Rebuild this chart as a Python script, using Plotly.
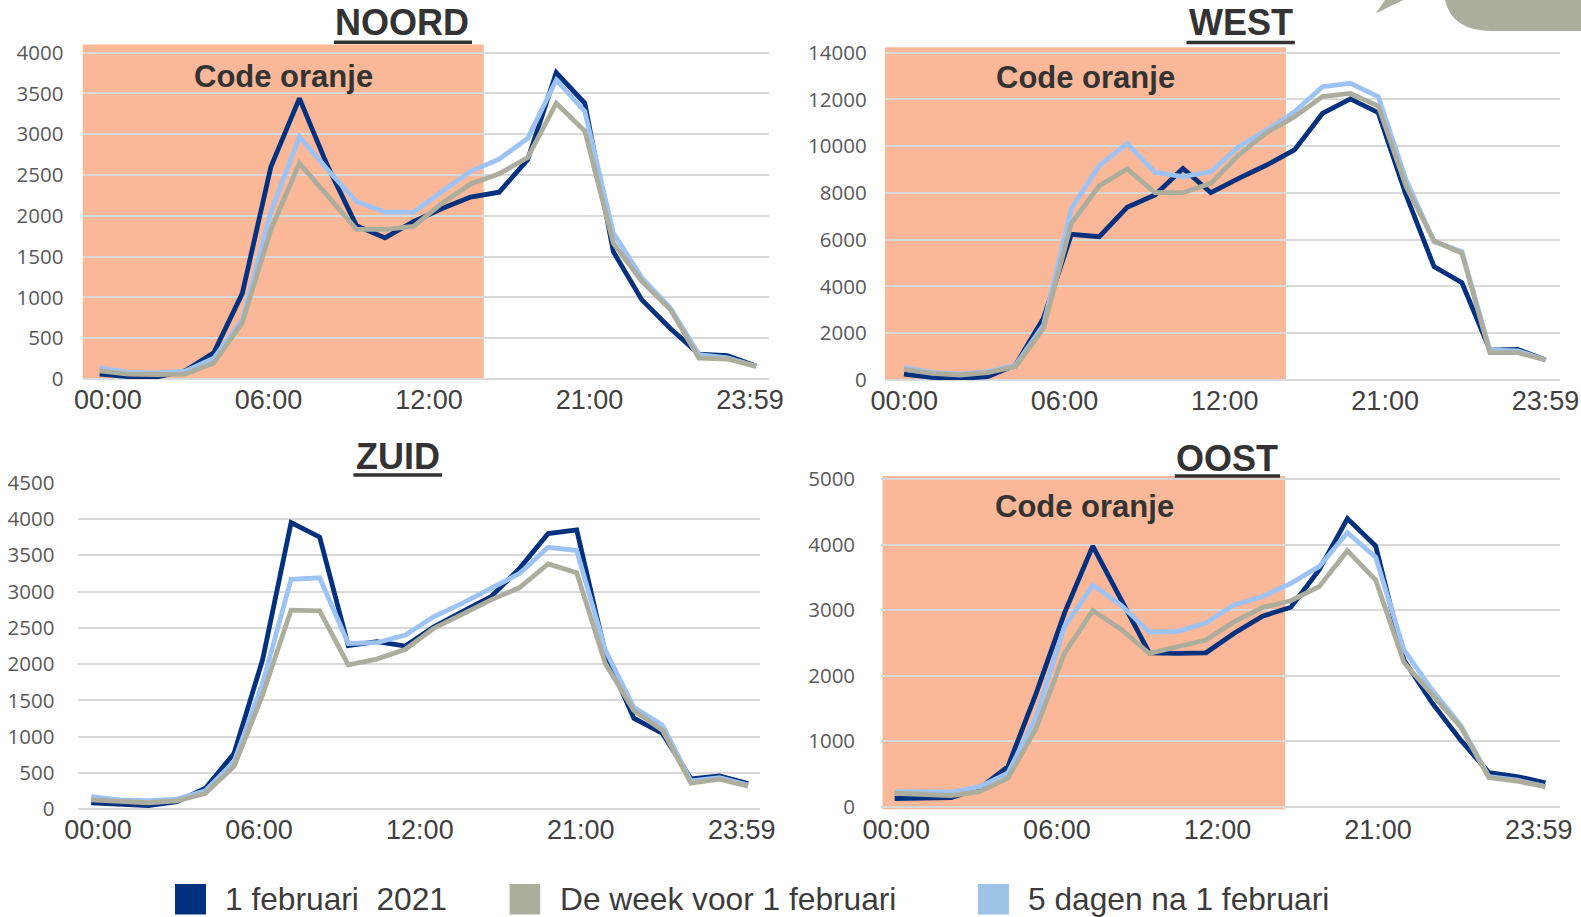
import plotly.graph_objects as go

W, H = 1581, 917

# ---------------- data ----------------
hours = list(range(24))
tick_labels = ["00:00", "06:00", "12:00", "21:00", "23:59"]
series_names = ["1 februari\u00a0 2021", "De week voor 1 februari", "5 dagen na 1 februari"]

noord_feb1 = [60, 30, 25, 100, 320, 1050, 2600, 3440, 2600, 1880, 1730, 1930, 2090, 2230, 2290, 2690, 3755, 3380, 1560, 970, 620, 305, 285, 160]
noord_week = [100, 60, 55, 60, 195, 690, 1830, 2645, 2240, 1835, 1835, 1870, 2155, 2390, 2515, 2715, 3380, 3040, 1665, 1195, 850, 255, 245, 155]
noord_after = [135, 80, 75, 95, 255, 725, 2050, 2970, 2560, 2175, 2045, 2045, 2300, 2545, 2695, 2950, 3665, 3280, 1790, 1240, 870, 300, 260, 155]

west_feb1 = [255, 115, 70, 140, 640, 2640, 6230, 6130, 7385, 7910, 9050, 8010, 8625, 9195, 9840, 11400, 12020, 11435, 7900, 4850, 4160, 1280, 1310, 855]
west_week = [455, 285, 215, 315, 570, 2210, 6700, 8310, 9025, 8010, 8010, 8410, 9625, 10580, 11260, 12120, 12260, 11720, 8270, 5960, 5420, 1170, 1170, 855]
west_after = [540, 330, 255, 355, 640, 2350, 7340, 9170, 10120, 8880, 8700, 8910, 9980, 10690, 11475, 12545, 12690, 12120, 8550, 5915, 5490, 1280, 1250, 855]

zuid_feb1 = [90, 70, 50, 105, 290, 770, 2060, 3950, 3750, 2255, 2310, 2250, 2515, 2725, 2930, 3320, 3800, 3850, 2150, 1255, 1045, 420, 460, 355]
zuid_week = [130, 105, 90, 115, 220, 590, 1575, 2745, 2735, 1990, 2070, 2205, 2495, 2690, 2885, 3055, 3380, 3260, 2010, 1360, 1090, 360, 415, 320]
zuid_after = [175, 130, 120, 140, 255, 655, 1735, 3170, 3190, 2285, 2295, 2400, 2655, 2840, 3045, 3250, 3610, 3565, 2195, 1405, 1160, 390, 435, 335]

oost_feb1 = [125, 135, 140, 280, 610, 1730, 2955, 3980, 3155, 2350, 2340, 2350, 2650, 2910, 3045, 3615, 4400, 3980, 2240, 1580, 1020, 520, 460, 365]
oost_week = [205, 180, 170, 230, 435, 1195, 2340, 2995, 2710, 2340, 2435, 2545, 2825, 3040, 3145, 3360, 3910, 3460, 2200, 1720, 1220, 445, 390, 305]
oost_after = [230, 230, 220, 305, 510, 1375, 2750, 3385, 3080, 2665, 2675, 2810, 3080, 3210, 3410, 3665, 4185, 3810, 2395, 1780, 1245, 460, 405, 305]

regions = ["NOORD", "WEST", "ZUID", "OOST"]
region_data = {
    "NOORD": (noord_feb1, noord_week, noord_after),
    "WEST": (west_feb1, west_week, west_after),
    "ZUID": (zuid_feb1, zuid_week, zuid_after),
    "OOST": (oost_feb1, oost_week, oost_after),
}
code_label = "Code oranje"

# ---------------- styling ----------------
C_DARK = "#02317F"
C_GRAY = "#ADAD9E"
C_LIGHT = "#9DC3F5"
C_LEG_LIGHT = "#9DC3E6"
C_ORANGE = "#FBB899"
GRID = "#D9D9D9"
FONT = "Arial, Liberation Sans, sans-serif"
YFONT = "Open Sans, Arial, sans-serif"


def px(x, y):
    return x / W, 1 - y / H


# layout per panel: pixel box (left, right, bottom, top), x range, y range, dtick, label standoff,
# orange band, x-label placement (start fraction, step fraction)
panels = {
    "NOORD": dict(box=(82.5, 768.6, 379, 44.5), xr=(-0.6, 23.44), yr=(0, 4100), dt=500, st=18, band=(-0.6, 13.46),
                  title=(402, 22.5), ul=(334, 472, 42.3), code=(283.5, 76), lab=(0.037, 0.234)),
    "WEST": dict(box=(884.7, 1559.6, 380, 47.3), xr=(-0.69, 23.5), yr=(0, 14230), dt=2000, st=17, band=(-0.69, 13.69),
                 title=(1240.6, 22.5), ul=(1186.5, 1294.8, 42.5), code=(1085, 77), lab=(0.029, 0.2375)),
    "ZUID": dict(box=(77.5, 759.5, 809.3, 482.7), xr=(-0.48, 23.4), yr=(0, 4500), dt=500, st=22, band=None,
                 title=(397.7, 456), ul=(353.4, 442, 475), code=None, lab=(0.030, 0.236)),
    "OOST": dict(box=(881.1, 1559.6, 809.3, 476), xr=(-0.48, 23.5), yr=(-40, 5050), dt=1000, st=25, band=(-0.43, 13.8),
                 title=(1227.4, 458), ul=(1174.8, 1280, 476), code=(1084, 506), lab=(0.0224, 0.2367)),
}

fig = go.Figure()
shapes = []
annotations = []

for i, reg in enumerate(regions, start=1):
    p = panels[reg]
    xa = "x" if i == 1 else f"x{i}"
    ya = "y" if i == 1 else f"y{i}"
    feb1, week, after = region_data[reg]
    for vals, col in ((feb1, C_DARK), (after, C_LIGHT), (week, C_GRAY)):
        fig.add_trace(go.Scatter(x=hours, y=vals, mode="lines", xaxis=xa, yaxis=ya,
                                 line=dict(color=col, width=4.8), showlegend=False, hoverinfo="skip"))
    l, r, b, t = p["box"]
    x0, x1 = p["xr"]
    f0, fs = p["lab"]
    tickvals = [x0 + (x1 - x0) * (f0 + fs * k) for k in range(len(tick_labels))]
    fig.update_layout(**{
        ("xaxis" if i == 1 else f"xaxis{i}"): dict(
            domain=[l / W, r / W], range=list(p["xr"]), anchor=ya, showgrid=False, zeroline=False,
            showline=False, ticks="", tickvals=tickvals, ticktext=tick_labels, automargin=False,
            ticklabeloverflow="allow",
            tickfont=dict(family=FONT, size=27, color="#404040"), ticklabelstandoff=2),
        ("yaxis" if i == 1 else f"yaxis{i}"): dict(
            domain=[1 - b / H, 1 - t / H], range=list(p["yr"]), anchor=xa, dtick=p["dt"], tick0=0,
            tickformat="d", automargin=False,
            showgrid=True, gridcolor=GRID, gridwidth=2, zeroline=True, zerolinecolor=GRID, zerolinewidth=2,
            showline=False, ticks="", tickfont=dict(family=YFONT, size=20.5, color="#595959"),
            ticklabelstandoff=int(p["st"])),
    })
    if p["band"]:
        shapes.append(dict(type="rect", xref=xa, yref=f"{ya} domain", x0=p["band"][0], x1=p["band"][1],
                           y0=0, y1=1, fillcolor=C_ORANGE, line=dict(width=0), layer="below"))
    if p["code"]:
        cx, cy = px(*p["code"])
        annotations.append(dict(text=f"<b>{code_label}</b>", x=cx, y=cy, xref="paper", yref="paper",
                                xanchor="center", yanchor="middle", showarrow=False,
                                font=dict(family=FONT, size=31, color="#333333")))
    tx, ty = px(*p["title"])
    annotations.append(dict(text=f"<b>{reg}</b>", x=tx, y=ty, xref="paper", yref="paper",
                            xanchor="center", yanchor="middle", showarrow=False,
                            font=dict(family=FONT, size=36, color="#333333")))
    ux0, ux1, uy = p["ul"]
    shapes.append(dict(type="line", xref="paper", yref="paper", x0=ux0 / W, x1=ux1 / W,
                       y0=1 - uy / H, y1=1 - uy / H, line=dict(color="#333333", width=3.5)))

# legend (drawn)
leg_boxes = [(175, 206), (509.6, 540.2), (978, 1009)]
leg_text_x = [222.7, 557.8, 1026]
leg_cols = [C_DARK, C_GRAY, C_LEG_LIGHT]
for (bx0, bx1), tx, col, name in zip(leg_boxes, leg_text_x, leg_cols, series_names):
    shapes.append(dict(type="rect", xref="paper", yref="paper", x0=bx0 / W, x1=bx1 / W,
                       y0=1 - 914.5 / H, y1=1 - 884 / H, fillcolor=col, line=dict(width=0)))
    annotations.append(dict(text=name, x=tx / W, y=1 - 899 / H, xref="paper", yref="paper",
                            xanchor="left", yanchor="middle", showarrow=False,
                            font=dict(family=FONT, size=31.7, color="#3B3B3B")))

# decoration top-right
def pp(x, y):
    a, b = px(x, y)
    return f"{a:.5f},{b:.5f}"

blob = f"M {pp(1445,0)} Q {pp(1452,31)} {pp(1492,31)} L {pp(1581,31)} L {pp(1581,0)} Z"
shapes.append(dict(type="path", xref="paper", yref="paper", path=blob, fillcolor=C_GRAY, line=dict(width=0)))
tri = f"M {pp(1376,13.3)} L {pp(1385,0)} L {pp(1403.3,0)} Z"
shapes.append(dict(type="path", xref="paper", yref="paper", path=tri, fillcolor=C_GRAY, line=dict(width=0)))

fig.update_layout(width=W, height=H, margin=dict(l=0, r=0, t=0, b=0, pad=0, autoexpand=False),
                  paper_bgcolor="white", plot_bgcolor="rgba(0,0,0,0)",
                  shapes=shapes, annotations=annotations, showlegend=False)

fig.write_html("out.html", config={"displayModeBar": False, "staticPlot": True},
               post_script="document.body.style.margin='0';document.body.style.overflow='hidden';")
